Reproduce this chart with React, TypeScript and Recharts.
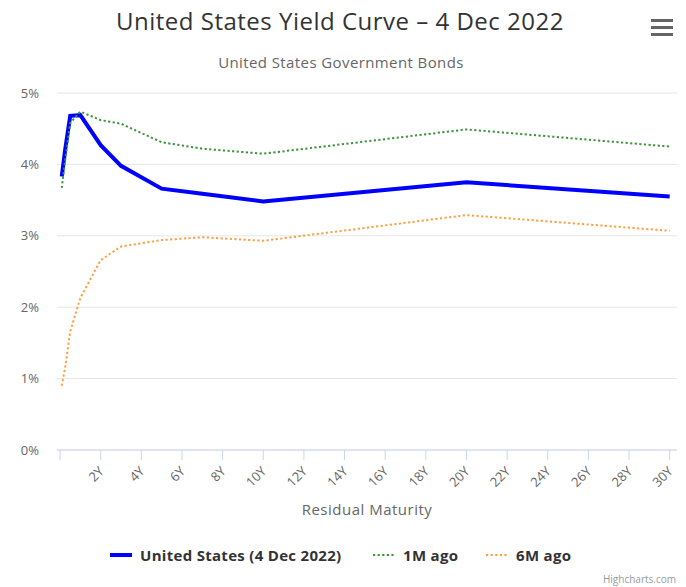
import React from "react";
import { LineChart, Line, XAxis, YAxis, CartesianGrid } from "recharts";

// residual maturity in years
const maturities = [1 / 12, 0.25, 0.5, 1, 2, 3, 5, 7, 10, 20, 30];
const usToday = [3.83, 4.2, 4.68, 4.69, 4.27, 3.98, 3.66, 3.59, 3.48, 3.75, 3.55];
const oneMonthAgo = [3.67, 4.05, 4.58, 4.74, 4.62, 4.57, 4.31, 4.22, 4.15, 4.49, 4.25];
const sixMonthsAgo = [0.9, 1.15, 1.66, 2.13, 2.66, 2.85, 2.94, 2.98, 2.93, 3.29, 3.07];

const xTicks = [0, 2, 4, 6, 8, 10, 12, 14, 16, 18, 20, 22, 24, 26, 28, 30];
const yTicks = [0, 1, 2, 3, 4, 5];

const series = [
  { key: "us", name: "United States (4 Dec 2022)", color: "#0000ff", width: 4, dash: undefined, left: 110 },
  { key: "m1", name: "1M ago", color: "#3b963b", width: 2, dash: "2.2 2.4", left: 373 },
  { key: "m6", name: "6M ago", color: "#ffa040", width: 2, dash: "2.2 2.4", left: 486 },
];

const data = maturities.map((x, i) => ({
  x,
  us: usToday[i],
  m1: oneMonthAgo[i],
  m6: sixMonthsAgo[i],
}));

const FONT = '"Open Sans", "DejaVu Sans", Arial, sans-serif';

const XTick = (props: any) => {
  const { x, y, payload } = props;
  if (payload.value === 0) return null;
  const ax = x + 4;
  const ay = y + 10;
  return (
    <text
      x={ax}
      y={ay}
      transform={`rotate(-45, ${ax}, ${ay})`}
      textAnchor="end"
      fill="#666"
      fontSize={13}
      fontFamily={FONT}
    >
      {payload.value}Y
    </text>
  );
};

export default function App() {
  return (
    <div style={{ position: "relative", width: 686, height: 587, fontFamily: FONT, background: "#fff" }}>
      <style>{`body{margin:0}`}</style>
      <div style={{ position: "absolute", top: 4, left: 0, width: 680, textAlign: "center", fontSize: 24, letterSpacing: 0.5, color: "#333" }}>
        United States Yield Curve – 4 Dec 2022
      </div>
      <div style={{ position: "absolute", top: 52, left: 0, width: 682, textAlign: "center", fontSize: 15, letterSpacing: 0.4, color: "#666" }}>
        United States Government Bonds
      </div>
      <svg style={{ position: "absolute", left: 650, top: 18 }} width={24} height={20}>
        <rect x={1} y={1} width={22} height={3} fill="#666" />
        <rect x={1} y={8} width={22} height={3} fill="#666" />
        <rect x={1} y={15} width={22} height={3} fill="#666" />
      </svg>
      <LineChart
        width={686}
        height={587}
        data={data}
        margin={{ top: 93, right: 9, left: 12, bottom: 72 }}
      >
        <CartesianGrid horizontal vertical={false} stroke="#e6e6e6" />
        <XAxis
          dataKey="x"
          type="number"
          domain={[-0.15, 30.36]}
          allowDataOverflow
          ticks={xTicks}
          interval={0}
          tick={<XTick />}
          tickLine={{ stroke: "#ccd6eb" }}
          tickSize={10}
          axisLine={{ stroke: "#ccd6eb" }}
          height={65}
          label={{ value: "Residual Maturity", position: "insideBottom", offset: 0, fill: "#666", fontSize: 15, letterSpacing: 0.5, fontFamily: FONT }}
        />
        <YAxis
          type="number"
          domain={[0, 5]}
          ticks={yTicks}
          tickFormatter={(v) => `${v}%`}
          axisLine={false}
          tickLine={false}
          tickMargin={12}
          width={45}
          tick={{ fill: "#666", fontSize: 13, fontFamily: FONT }}
        />
        {series.map((s) => (
          <Line
            key={s.key}
            dataKey={s.key}
            name={s.name}
            type="linear"
            stroke={s.color}
            strokeWidth={s.width}
            strokeDasharray={s.dash}
            dot={false}
            activeDot={false}
            isAnimationActive={false}
          />
        ))}
      </LineChart>
      {series.map((s) => (
        <div
          key={s.key}
          style={{ position: "absolute", top: 545, left: s.left, display: "flex", alignItems: "center", fontSize: 15, letterSpacing: 0.3, fontWeight: "bold", color: "#333" }}
        >
          <svg width={22} height={10} style={{ marginRight: 8 }}>
            <line x1={0} x2={22} y1={5} y2={5} stroke={s.color} strokeWidth={s.width} strokeDasharray={s.dash} />
          </svg>
          {s.name}
        </div>
      ))}
      <div style={{ position: "absolute", right: 10, top: 572, fontSize: 10, color: "#999" }}>Highcharts.com</div>
    </div>
  );
}
